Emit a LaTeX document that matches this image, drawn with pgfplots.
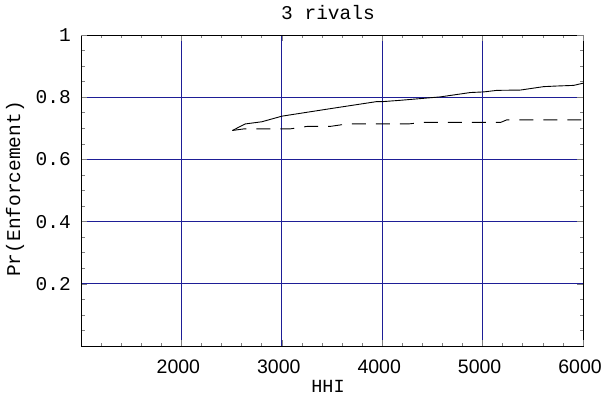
\documentclass[border=0pt]{standalone}
\usepackage{fontspec}
\setmainfont{Liberation Sans}
\newfontfamily\mono{Liberation Mono}
\usepackage{pgfplots}
\pgfplotsset{compat=1.18}
\definecolor{gridblue}{RGB}{30,30,150}
\begin{document}
\begin{tikzpicture}
\begin{axis}[
  scale only axis, width=502bp, height=311bp,
  xmin=1000, xmax=6000, ymin=0, ymax=1,
  xtick={2000,3000,4000,5000},
  extra x ticks={6000}, extra x tick style={grid=none},
  minor xtick={1200,1400,1600,1800,2200,2400,2600,2800,3200,3400,3600,3800,4200,4400,4600,4800,5200,5400,5600,5800},
  ytick={0.2,0.4,0.6,0.8},
  extra y ticks={1}, extra y tick style={grid=none},
  minor ytick={0.05,0.1,0.15,0.25,0.3,0.35,0.45,0.5,0.55,0.65,0.7,0.75,0.85,0.9,0.95},
  grid=major,
  grid style={color=gridblue, line width=1bp},
  major tick length=6bp, minor tick length=3.5bp,
  tick align=inside,
  tick style={line width=0.6bp},
  axis line style={draw=black, line width=0.8bp},
  scaled x ticks=false,
  /pgf/number format/assume math mode=true,
  /pgf/number format/1000 sep={},
  xticklabel style={font=\fontsize{19.5bp}{23bp}\selectfont, anchor=base, inner sep=0pt, yshift=-27bp, xshift=-3bp},
  yticklabel style={font=\fontsize{19.5bp}{23bp}\selectfont\mono, anchor=east, inner sep=0pt, xshift=-10bp},
  title={3 rivals},
  title style={font=\fontsize{19.5bp}{23bp}\selectfont\mono, at={(axis description cs:0.492,1.03)}, anchor=base, inner sep=0pt, yshift=0pt},
  xlabel={HHI},
  xlabel style={font=\fontsize{18.5bp}{22bp}\selectfont\mono, at={(axis description cs:0.492,-0.151)}, anchor=base, inner sep=0pt},
  ylabel={Pr(Enforcement)},
  ylabel style={font=\fontsize{19.5bp}{23bp}\selectfont\mono, at={(axis description cs:-0.1315,0.505)}, anchor=center, inner sep=0pt},
]
\coordinate (A) at (rel axis cs:0,0);
\coordinate (B) at (rel axis cs:1,1);
\addplot[black, line width=0.9bp] coordinates {
(2508,0.693) (2635,0.714) (2801,0.721) (3001,0.739) (3500,0.764) (3948,0.786) (4014,0.786)
(4180,0.790) (4579,0.801) (4878,0.815) (5011,0.817) (5144,0.822) (5377,0.823)
(5609,0.834) (5743,0.836) (5908,0.838) (6000,0.845)};
\addplot[black, line width=0.9bp, dash pattern=on 14bp off 10bp] coordinates {
(2508,0.693) (2620,0.698) (3080,0.698) (3250,0.706) (3480,0.706) (3650,0.714)
(4260,0.714) (4410,0.719) (5180,0.719) (5240,0.727) (6000,0.727)};
\end{axis}
\pgfresetboundingbox
\path[use as bounding box] ([xshift=-81bp,yshift=-50bp]A) rectangle ([xshift=20bp,yshift=35bp]B);
\end{tikzpicture}
\end{document}
